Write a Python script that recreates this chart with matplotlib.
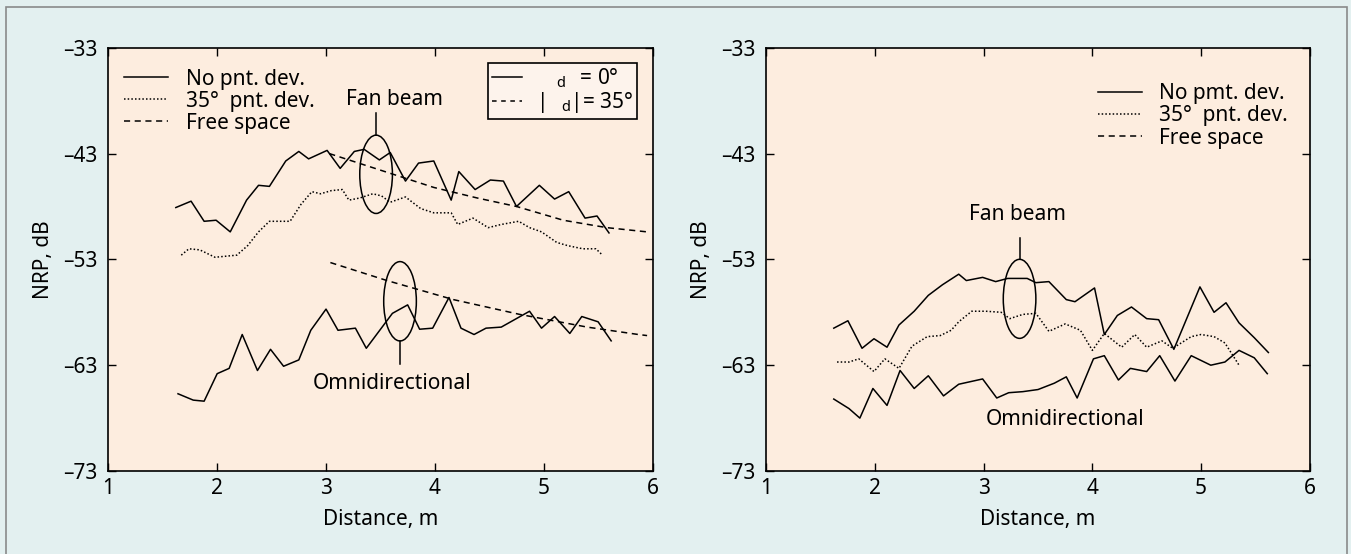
import matplotlib.pyplot as plt
from matplotlib.lines import Line2D
from matplotlib.patches import Ellipse, Rectangle

plt.rcParams["font.family"] = ["Noto Sans", "DejaVu Sans"]
plt.rcParams["mathtext.fontset"] = "custom"
plt.rcParams["mathtext.rm"] = "Noto Sans"

# ---- datos panel izquierdo ----
fan_x = [1.62, 1.76, 1.88, 1.99, 2.12, 2.27, 2.38, 2.48, 2.63, 2.75, 2.84, 3.01, 3.13,
         3.26, 3.35, 3.49, 3.59, 3.73, 3.85, 3.99, 4.15, 4.22, 4.37, 4.51, 4.63, 4.75,
         4.96, 5.10, 5.23, 5.38, 5.49, 5.60]
fan_y = [-48.1, -47.5, -49.4, -49.3, -50.4, -47.4, -46.0, -46.1, -43.7, -42.8, -43.5, -42.7,
         -44.4, -42.8, -42.6, -43.6, -42.9, -45.6, -43.9, -43.7, -47.4, -44.7, -46.4, -45.5,
         -45.6, -48.0, -46.0, -47.3, -46.6, -49.1, -48.9, -50.5]

fan35_x = [1.67, 1.74, 1.84, 1.98, 2.08, 2.18, 2.28, 2.38, 2.48, 2.67, 2.77, 2.87, 2.95,
           3.05, 3.15, 3.21, 3.31, 3.43, 3.51, 3.59, 3.73, 3.87, 3.99, 4.15, 4.21, 4.35,
           4.49, 4.61, 4.77, 4.87, 4.98, 5.12, 5.22, 5.36, 5.48, 5.54]
fan35_y = [-52.6, -52.0, -52.1, -52.8, -52.7, -52.6, -51.7, -50.4, -49.4, -49.4, -47.8,
           -46.6, -46.8, -46.5, -46.4, -47.4, -47.2, -46.8, -47.0, -47.6, -47.1, -48.2,
           -48.6, -48.6, -49.7, -49.1, -50.0, -49.7, -49.4, -50.0, -50.4, -51.4, -51.7,
           -52.0, -52.0, -52.6]

free_fan_x = [3.03, 3.51, 3.99, 4.39, 4.75, 5.18, 5.58, 5.95]
free_fan_y = [-43.0, -44.6, -46.2, -47.2, -48.0, -49.3, -50.0, -50.4]

omni_x = [1.64, 1.78, 1.88, 2.00, 2.11, 2.23, 2.37, 2.49, 2.61, 2.75, 2.86, 3.00, 3.11,
          3.27, 3.37, 3.61, 3.75, 3.86, 3.98, 4.13, 4.24, 4.36, 4.47, 4.61, 4.87, 4.98,
          5.10, 5.24, 5.35, 5.50, 5.62]
omni_y = [-65.7, -66.3, -66.4, -63.8, -63.3, -60.1, -63.5, -61.5, -63.1, -62.5, -59.7,
          -57.7, -59.7, -59.5, -61.4, -58.1, -57.3, -59.6, -59.5, -56.6, -59.5, -60.1,
          -59.5, -59.4, -57.9, -59.5, -58.4, -60.0, -58.4, -58.9, -60.7]

free_omni_x = [3.04, 3.56, 4.17, 4.78, 5.40, 5.87, 5.95]
free_omni_y = [-53.3, -55.0, -56.8, -58.2, -59.4, -60.1, -60.2]

# ---- datos panel derecho ----
r_fan_x = [1.62, 1.75, 1.88, 1.99, 2.11, 2.22, 2.36, 2.49, 2.62, 2.77, 2.84, 2.99, 3.11,
           3.22, 3.40, 3.48, 3.60, 3.76, 3.84, 4.02, 4.11, 4.23, 4.36, 4.50, 4.61, 4.75,
           4.99, 5.12, 5.23, 5.35, 5.49, 5.62]
r_fan_y = [-59.5, -58.8, -61.4, -60.5, -61.3, -59.2, -57.9, -56.4, -55.4, -54.4, -55.0,
           -54.7, -55.1, -54.8, -54.8, -55.2, -55.1, -56.8, -57.0, -55.7, -60.1, -58.3,
           -57.5, -58.6, -58.7, -61.5, -55.6, -58.0, -57.1, -59.0, -60.4, -61.8]

r_fan35_x = [1.65, 1.76, 1.85, 1.99, 2.09, 2.22, 2.34, 2.48, 2.60, 2.70, 2.77, 2.89, 3.02,
             3.16, 3.24, 3.36, 3.48, 3.60, 3.75, 3.89, 4.00, 4.11, 4.27, 4.39, 4.50, 4.64,
             4.74, 4.91, 5.00, 5.12, 5.22, 5.35]
r_fan35_y = [-62.7, -62.7, -62.4, -63.6, -62.4, -63.3, -61.2, -60.3, -60.2, -59.7, -58.9,
             -57.9, -57.9, -58.0, -58.6, -58.2, -58.1, -59.8, -59.1, -59.7, -61.6, -60.0,
             -61.3, -60.1, -61.3, -60.7, -61.4, -60.3, -60.1, -60.3, -60.9, -63.0]

r_omni_x = [1.62, 1.76, 1.86, 1.98, 2.11, 2.23, 2.36, 2.49, 2.63, 2.77, 2.99, 3.12, 3.23,
            3.36, 3.50, 3.65, 3.76, 3.86, 4.01, 4.11, 4.24, 4.35, 4.50, 4.62, 4.76, 4.91,
            5.09, 5.22, 5.35, 5.49, 5.61]
r_omni_y = [-66.2, -67.1, -68.0, -65.2, -66.8, -63.5, -65.2, -64.0, -65.9, -64.8, -64.3,
            -66.1, -65.6, -65.5, -65.3, -64.7, -64.1, -66.1, -62.4, -62.1, -64.4, -63.3,
            -63.6, -62.1, -64.5, -62.1, -63.0, -62.7, -61.6, -62.3, -63.8]

BG_FIG = "#e3f0f0"
BG_AX = "#fdeddf"
TXT = 15
LW = 1.1
DOTTED = (0, (1, 1.4))
DASHED = (0, (4, 3))
GRADO = "\u00b0"


def preparar_ejes(ax):
    ax.set_facecolor(BG_AX)
    ax.set_xlim(1, 6)
    ax.set_ylim(-73, -33)
    ax.set_xticks([1, 2, 3, 4, 5, 6])
    ax.set_yticks([-73, -63, -53, -43, -33])
    ax.set_yticklabels(["\u201373", "\u201363", "\u201353", "\u201343", "\u201333"])
    ax.tick_params(direction="in", top=True, right=True, length=6, width=1,
                   labelsize=TXT)
    ax.tick_params(axis="y", pad=8)
    ax.tick_params(axis="x", pad=5)
    for s in ax.spines.values():
        s.set_linewidth(1.2)
    ax.set_xlabel("Distance, m", fontsize=TXT, labelpad=7)
    ax.set_ylabel("NRP, dB", fontsize=TXT, labelpad=6)


def circulo(ax, cx, cy, w, h, y_lin0, y_lin1):
    ax.add_patch(Ellipse((cx, cy), w, h, fill=False, edgecolor="black", lw=LW))
    ax.plot([cx, cx], [y_lin0, y_lin1], color="black", lw=LW)


fig = plt.figure(figsize=(13.51, 5.54), dpi=100)
fig.patch.set_facecolor(BG_FIG)
fig.add_artist(Rectangle((0.0045, -0.02), 0.9925, 1.007, transform=fig.transFigure,
                         fill=False, edgecolor="#8a8a8a", lw=1.2))

ax1 = fig.add_axes([0.0802, 0.1498, 0.4028, 0.764])
ax2 = fig.add_axes([0.5673, 0.1498, 0.4021, 0.764])

# panel izquierdo
preparar_ejes(ax1)
l1, = ax1.plot(fan_x, fan_y, color="black", lw=LW)
l2, = ax1.plot(fan35_x, fan35_y, color="black", lw=LW, linestyle=DOTTED)
l3, = ax1.plot(free_fan_x, free_fan_y, color="black", lw=LW, linestyle=DASHED)
ax1.plot(omni_x, omni_y, color="black", lw=LW)
ax1.plot(free_omni_x, free_omni_y, color="black", lw=LW, linestyle=DASHED)

circulo(ax1, 3.46, -44.96, 0.30, 7.4, -41.26, -39.2)
circulo(ax1, 3.68, -56.96, 0.30, 7.5, -60.7, -62.85)
ax1.text(3.63, -37.9, "Fan beam", fontsize=TXT, ha="center", va="center")
ax1.text(3.61, -64.7, "Omnidirectional", fontsize=TXT, ha="center", va="center")

leg1 = ax1.legend([l1, l2, l3], ["No pnt. dev.", "35" + GRADO + "  pnt. dev.", "Free space"],
                  loc="upper left", bbox_to_anchor=(-0.005, 0.995), frameon=False,
                  fontsize=TXT, handlelength=2.1, handletextpad=0.85, labelspacing=0.05)
ax1.add_artist(leg1)

h_a = Line2D([], [], color="black", lw=LW)
h_b = Line2D([], [], color="black", lw=LW, linestyle=(0, (3, 3)))
leg2 = ax1.legend([h_a, h_b],
                  [r"$\mathregular{\ \ \ _{d}\ \ }$= 0" + GRADO,
                   r"$\mathregular{|\ \ _{d}|}$= 35" + GRADO],
                  loc="upper right", bbox_to_anchor=(0.98, 0.975), fontsize=TXT,
                  handlelength=1.4, handletextpad=0.7, labelspacing=0.0,
                  fancybox=False, framealpha=1, borderpad=0.2, borderaxespad=0.2)
leg2.get_frame().set_facecolor("#fdf3ec")
leg2.get_frame().set_edgecolor("black")
leg2.get_frame().set_linewidth(1.2)

# panel derecho
preparar_ejes(ax2)
r1, = ax2.plot(r_fan_x, r_fan_y, color="black", lw=LW)
r2, = ax2.plot(r_fan35_x, r_fan35_y, color="black", lw=LW, linestyle=DOTTED)
ax2.plot(r_omni_x, r_omni_y, color="black", lw=LW)
r3 = Line2D([], [], color="black", lw=LW, linestyle=DASHED)

circulo(ax2, 3.33, -56.73, 0.30, 7.47, -53.0, -51.0)
ax2.text(3.31, -48.8, "Fan beam", fontsize=TXT, ha="center", va="center")
ax2.text(3.75, -68.1, "Omnidirectional", fontsize=TXT, ha="center", va="center")

ax2.legend([r1, r2, r3], ["No pmt. dev.", "35" + GRADO + "  pnt. dev.", "Free space"],
           loc="upper right", bbox_to_anchor=(0.995, 0.96), frameon=False,
           fontsize=TXT, handlelength=2.1, handletextpad=0.85, labelspacing=0.05)

plt.savefig("out.png", dpi=100, facecolor=fig.get_facecolor())
